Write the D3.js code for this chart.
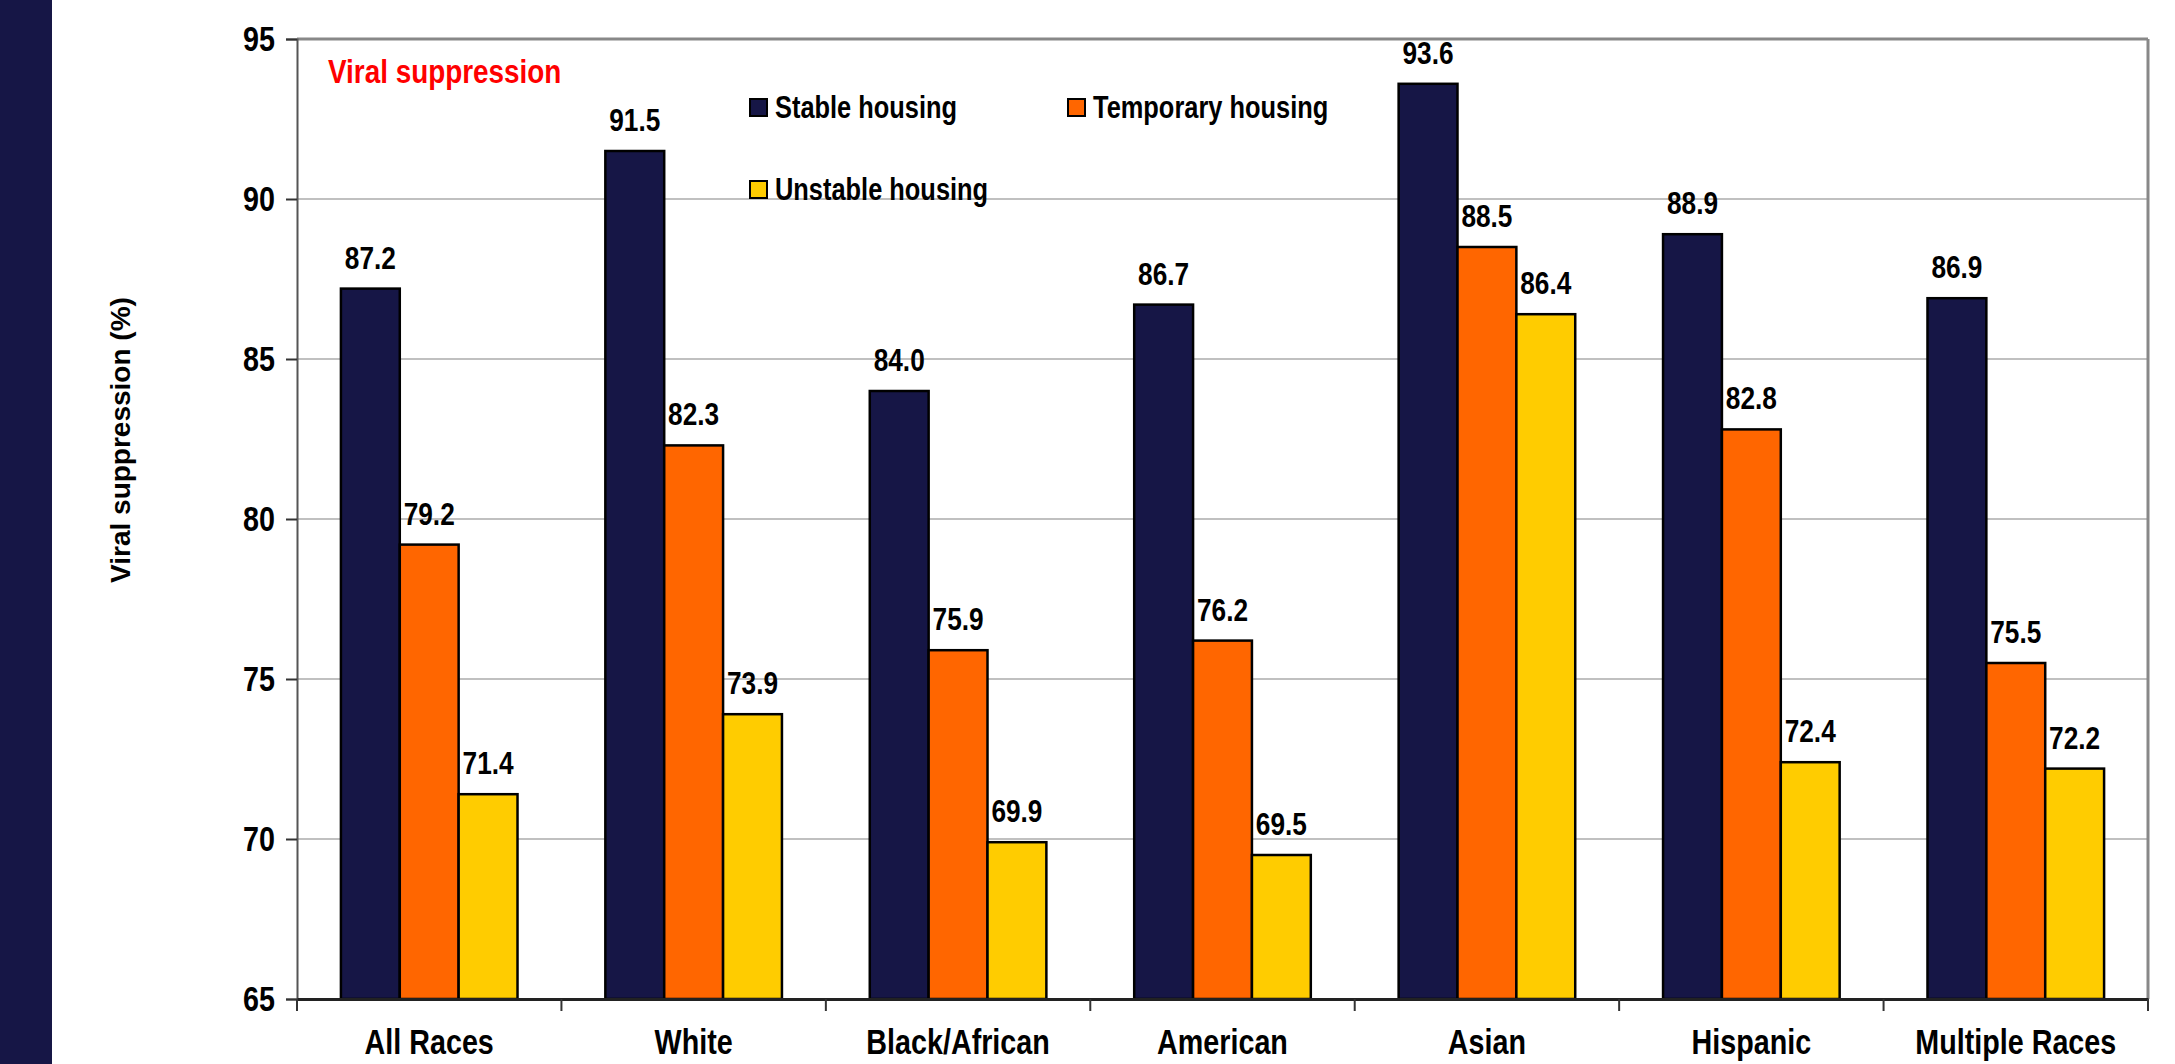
<!DOCTYPE html>
<html>
<head>
<meta charset="utf-8">
<script src="https://cdn.jsdelivr.net/npm/d3@7"></script>
<style>
  html, body { margin: 0; padding: 0; background: #fff; }
  svg { display: block; }
  text { font-family: "Liberation Sans", Arial, sans-serif; font-weight: bold; }
</style>
</head>
<body>
<svg id="chart" width="2175" height="1064"></svg>
<script>
const categories = ["All Races", "White", "Black/African", "American", "Asian", "Hispanic", "Multiple Races"];
const seriesNames = ["Stable housing", "Temporary housing", "Unstable housing"];
const stable = [87.2, 91.5, 84.0, 86.7, 93.6, 88.9, 86.9];
const temporary = [79.2, 82.3, 75.9, 76.2, 88.5, 82.8, 75.5];
const unstable = [71.4, 73.9, 69.9, 69.5, 86.4, 72.4, 72.2];
const yTicks = [65, 70, 75, 80, 85, 90, 95];
const colors = ["#161646", "#ff6600", "#ffcc00"];

const NARROW = 0.82;
const seriesValues = [stable, temporary, unstable];
const svg = d3.select("#chart");
const W = 2175, H = 1064;
const plot = { left: 297, right: 2148, top: 39, bottom: 999 };

function narrowText(parent, x, y, size, anchor, fill, str) {
  return parent.append("text")
    .attr("transform", `translate(${x},${y}) scale(${NARROW},1)`)
    .attr("text-anchor", anchor).attr("font-size", size).attr("fill", fill)
    .text(str);
}

// left navy stripe
svg.append("rect").attr("x", 0).attr("y", 0).attr("width", 52).attr("height", H).attr("fill", "#161646");

const x0 = d3.scaleBand().domain(categories).range([plot.left, plot.right]).paddingInner(0).paddingOuter(0);
const x1 = d3.scaleBand().domain(seriesNames).range([0, x0.bandwidth()]).paddingOuter(0.746).paddingInner(0);
const y = d3.scaleLinear().domain([65, 95]).range([plot.bottom, plot.top]);

// gridlines
svg.append("g").selectAll("line").data(yTicks.filter(t => t > 65 && t < 95)).join("line")
  .attr("x1", plot.left).attr("x2", plot.right)
  .attr("y1", d => y(d)).attr("y2", d => y(d))
  .attr("stroke", "#c0c0c0").attr("stroke-width", 2);

// plot frame top & right
svg.append("line").attr("x1", plot.left).attr("x2", plot.right).attr("y1", plot.top).attr("y2", plot.top)
  .attr("stroke", "#888").attr("stroke-width", 3);
svg.append("line").attr("x1", plot.right).attr("x2", plot.right).attr("y1", plot.top).attr("y2", plot.bottom)
  .attr("stroke", "#888").attr("stroke-width", 3);

// bars
const groups = svg.append("g").selectAll("g").data(categories).join("g")
  .attr("transform", d => `translate(${x0(d)},0)`);
groups.each(function(cat, ci) {
  const g = d3.select(this);
  seriesNames.forEach((s, si) => {
    const v = seriesValues[si][ci];
    g.append("rect")
      .attr("x", x1(s)).attr("width", x1.bandwidth())
      .attr("y", y(v)).attr("height", y(65) - y(v))
      .attr("fill", colors[si]).attr("stroke", "#000").attr("stroke-width", 2.5);
    narrowText(g, x1(s) + x1.bandwidth() / 2, y(v) - 20, 32, "middle", "#000", v.toFixed(1));
  });
});

// y axis
const yAxis = d3.axisLeft(y).tickValues(yTicks).tickSize(11).tickPadding(11).tickFormat(d3.format("d"));
const gy = svg.append("g").attr("transform", `translate(${plot.left},0)`).call(yAxis);
gy.attr("font-family", null);
gy.select(".domain").attr("stroke", "#555").attr("stroke-width", 2);
gy.selectAll(".tick line").attr("stroke", "#333").attr("stroke-width", 2);
gy.selectAll(".tick text")
  .attr("font-size", 35).attr("fill", "#000")
  .attr("x", -22 / NARROW).attr("transform", `scale(${NARROW},1)`);

// x axis
const xAxis = d3.axisBottom(x0).tickSize(0).tickPadding(30);
const gx = svg.append("g").attr("transform", `translate(0,${plot.bottom})`).call(xAxis);
gx.attr("font-family", null);
gx.select(".domain").attr("stroke", "#222").attr("stroke-width", 3);
gx.selectAll(".tick text").attr("font-size", 35).attr("fill", "#000")
  .attr("transform", `scale(${NARROW},1)`);
// boundary ticks
const bounds = categories.map(c => x0(c)).concat([x0.range()[1]]);
svg.append("g").selectAll("line").data(bounds).join("line")
  .attr("x1", d => d).attr("x2", d => d).attr("y1", plot.bottom).attr("y2", plot.bottom + 12)
  .attr("stroke", "#333").attr("stroke-width", 2);

// y axis title
svg.append("text")
  .attr("transform", `translate(130,440) rotate(-90)`)
  .attr("text-anchor", "middle")
  .attr("font-size", 28).attr("fill", "#000")
  .text("Viral suppression (%)");

// chart title
narrowText(svg, 328, 83, 34, "start", "#ff0000", "Viral suppression");

// legend
const legendPos = [[750, 99], [1068, 99], [750, 181]];
seriesNames.forEach((s, i) => {
  const [lx, ly] = legendPos[i];
  svg.append("rect").attr("x", lx).attr("y", ly).attr("width", 17).attr("height", 17)
    .attr("fill", colors[i]).attr("stroke", "#000").attr("stroke-width", 2);
  narrowText(svg, lx + 25, ly + 19, 31, "start", "#000", s);
});
</script>
</body>
</html>
